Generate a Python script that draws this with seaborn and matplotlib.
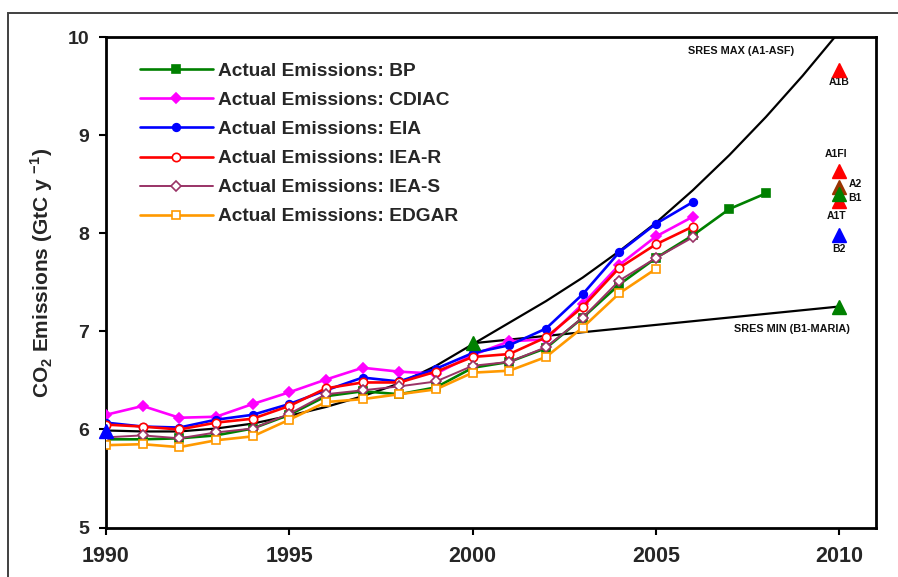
import matplotlib
matplotlib.use("Agg")
import matplotlib.pyplot as plt
import seaborn as sns
import numpy as np
from matplotlib.patches import Rectangle

# ---------------- data ----------------
years_bp = list(range(1990, 2009))
years_06 = list(range(1990, 2007))
years_05 = list(range(1990, 2006))

bp = [5.90, 5.90, 5.91, 5.94, 6.01, 6.15, 6.34, 6.39, 6.36, 6.43, 6.63, 6.69, 6.83, 7.14, 7.48, 7.75, 7.98, 8.25, 8.41]
cdiac = [6.15, 6.24, 6.12, 6.13, 6.26, 6.38, 6.51, 6.63, 6.59, 6.57, 6.76, 6.90, 6.92, 7.28, 7.68, 7.97, 8.17]
eia = [6.07, 6.03, 6.02, 6.10, 6.15, 6.26, 6.40, 6.53, 6.49, 6.62, 6.78, 6.86, 7.03, 7.38, 7.81, 8.10, 8.32]
iea_r = [6.05, 6.03, 6.00, 6.07, 6.11, 6.24, 6.42, 6.48, 6.48, 6.59, 6.74, 6.77, 6.94, 7.25, 7.65, 7.89, 8.07]
iea_s = [5.92, 5.94, 5.91, 5.97, 6.01, 6.16, 6.36, 6.40, 6.44, 6.49, 6.65, 6.69, 6.84, 7.14, 7.52, 7.75, 7.96]
edgar = [5.84, 5.85, 5.82, 5.89, 5.93, 6.10, 6.28, 6.31, 6.36, 6.41, 6.58, 6.60, 6.74, 7.04, 7.39, 7.64]

sres_max_years = list(range(1990, 2011))
sres_max = [5.99, 5.98, 5.98, 6.01, 6.06, 6.14, 6.23, 6.34, 6.47, 6.65, 6.87,
            7.09, 7.31, 7.55, 7.82, 8.11, 8.44, 8.80, 9.19, 9.61, 10.06]
sres_min_years = [2000, 2010]
sres_min = [6.88, 7.255]

anchor_years = [1990, 2000, 2010]
anchor_vals = [5.98, 6.88, 7.255]
anchor_colors = ["#0000FF", "#008000", "#008000"]

scen_names = ["A1B", "A1FI", "A1T", "A2", "B1", "B2"]
scen_vals = [9.67, 8.64, 8.33, 8.47, 8.40, 7.98]
scen_colors = ["#FF0000", "#FF0000", "#FF0000", "#993300", "#008000", "#0000FF"]
scen_label_pos = {"A1B": (2010.0, 9.55, "center"), "A1FI": (2009.9, 8.81, "center"),
                  "A1T": (2009.93, 8.18, "center"), "A2": (2010.25, 8.50, "left"),
                  "B1": (2010.25, 8.36, "left"), "B2": (2010.0, 7.84, "center")}

x_ticks = [1990, 1995, 2000, 2005, 2010]
y_ticks = [5, 6, 7, 8, 9, 10]

# ---------------- style ----------------
sns.set_theme(style="white")
plt.rcParams["font.family"] = ["Liberation Sans", "DejaVu Sans"]
plt.rcParams["mathtext.fontset"] = "custom"
plt.rcParams["mathtext.rm"] = "Liberation Sans:bold"
plt.rcParams["mathtext.bf"] = "Liberation Sans:bold"

fig = plt.figure(figsize=(8.98, 5.77), dpi=100)
ax = fig.add_axes([106 / 898, 49.5 / 577, 770 / 898, 490 / 577])

# scenario envelope curves
sns.lineplot(x=sres_max_years, y=sres_max, ax=ax, color="black", linewidth=1.6,
             estimator=None, sort=False, zorder=2)
sns.lineplot(x=sres_min_years, y=sres_min, ax=ax, color="black", linewidth=1.6,
             estimator=None, sort=False, zorder=2)

series = [
    ("Actual Emissions: BP", years_bp, bp, "#008000", "s", "#008000", 5.5, 1.9),
    ("Actual Emissions: CDIAC", years_06, cdiac, "#FF00FF", "D", "#FF00FF", 5.0, 1.9),
    ("Actual Emissions: EIA", years_06, eia, "#0000FF", "o", "#0000FF", 5.5, 1.9),
    ("Actual Emissions: IEA-R", years_06, iea_r, "#FF0000", "o", "white", 6.0, 1.9),
    ("Actual Emissions: IEA-S", years_06, iea_s, "#993366", "D", "white", 5.5, 1.4),
    ("Actual Emissions: EDGAR", years_05, edgar, "#FF9900", "s", "white", 6.0, 1.9),
]
for lab, xs, ys, col, mk, mfc, ms, lw in series:
    sns.lineplot(x=xs, y=ys, ax=ax, color=col, marker=mk, markersize=ms,
                 markerfacecolor=mfc, markeredgecolor=col, markeredgewidth=1.2,
                 linewidth=lw, label=lab, estimator=None, sort=False, zorder=3)

# anchor triangles
for yr, v, c in zip(anchor_years, anchor_vals, anchor_colors):
    ax.plot([yr], [v], marker="^", markersize=10, color=c, linestyle="none",
            zorder=5, clip_on=False)

# scenario triangles at 2010
for name, v, c in zip(scen_names, scen_vals, scen_colors):
    ax.plot([2010], [v], marker="^", markersize=10, color=c, linestyle="none", zorder=5)
    tx, ty, ha = scen_label_pos[name]
    ax.text(tx, ty, name, fontsize=7.5, fontweight="bold", ha=ha, va="center", color="#111111")

ax.text(2007.31, 9.86, "SRES MAX (A1-ASF)", fontsize=7.8, fontweight="bold",
        ha="center", va="center", color="#111111")
ax.text(2008.7, 7.03, "SRES MIN (B1-MARIA)", fontsize=7.8, fontweight="bold",
        ha="center", va="center", color="#111111")

# axes
ax.set_xlim(1990, 2011)
ax.set_ylim(5, 10)
ax.set_xticks(x_ticks)
ax.set_yticks(y_ticks)
ax.set_xticklabels([str(t) for t in x_ticks], fontsize=15.5, fontweight="bold")
ax.set_yticklabels([str(t) for t in y_ticks], fontsize=14, fontweight="bold")
ax.tick_params(axis="both", direction="out", length=5, width=1.5, color="black",
               bottom=True, left=True)
ax.tick_params(axis="x", pad=8)
ax.tick_params(axis="y", pad=7)
for sp in ax.spines.values():
    sp.set_visible(True)
    sp.set_color("black")
    sp.set_linewidth(2.0)

ax.set_ylabel(r"CO$_\mathbf{2}$ Emissions (GtC y $^{\mathbf{-1}}$)", fontsize=15,
              fontweight="bold")
ax.yaxis.set_label_coords(-0.066, 0.52)
ax.set_xlabel("")

leg = ax.legend(loc="upper left", bbox_to_anchor=(0.044, 0.949), frameon=False,
                fontsize=13.8, handlelength=3.8, handletextpad=0.25, labelspacing=0.61,
                borderpad=0, borderaxespad=0)
for t in leg.get_texts():
    t.set_fontweight("bold")

# outer frame of the original figure
fig.patches.append(Rectangle((8 / 898, -0.1), 2, 1 - 13 / 577 + 0.1, transform=fig.transFigure,
                             fill=False, edgecolor="#404040", linewidth=1.4, zorder=-1))

fig.savefig("out.png", dpi=100)
